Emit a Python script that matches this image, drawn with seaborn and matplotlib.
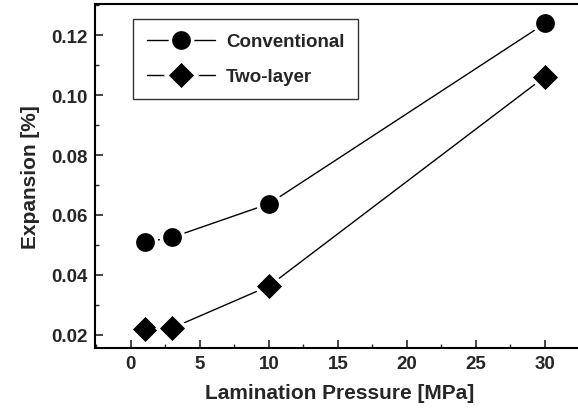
import matplotlib
matplotlib.use("Agg")
import matplotlib.pyplot as plt
import seaborn as sns
import pandas as pd
from matplotlib.ticker import MultipleLocator

pressure = [1, 3, 10, 30]
conventional = [0.0508, 0.0525, 0.0637, 0.1240]
two_layer = [0.0218, 0.0222, 0.0362, 0.1062]
series_names = ["Conventional", "Two-layer"]

df = pd.DataFrame({
    "Pressure": pressure * 2,
    "Expansion": conventional + two_layer,
    "Series": [series_names[0]] * 4 + [series_names[1]] * 4,
})

sns.set_style("ticks")
plt.rcParams["font.family"] = ["Liberation Sans", "DejaVu Sans"]
plt.rcParams["font.weight"] = "bold"

fig = plt.figure(figsize=(5.78, 4.10), dpi=100)
ax = fig.add_axes([95 / 578, 1 - 349 / 410, 490 / 578, 344 / 410])

sns.lineplot(data=df, x="Pressure", y="Expansion", hue="Series", style="Series",
             markers={"Conventional": "o", "Two-layer": "D"}, dashes=False,
             palette={"Conventional": "black", "Two-layer": "black"},
             linewidth=1.0, markersize=16, markeredgecolor="white",
             markeredgewidth=2.5, ax=ax, legend=True)
for ln in ax.lines:
    if ln.get_marker() == "D":
        ln.set_markersize(15.5)

ax.set_xlim(-2.6, 32.9)
ax.set_ylim(0.0155, 0.1305)
ax.xaxis.set_major_locator(MultipleLocator(5))
ax.xaxis.set_minor_locator(MultipleLocator(2.5))
ax.yaxis.set_major_locator(MultipleLocator(0.02))
ax.yaxis.set_minor_locator(MultipleLocator(0.01))
ax.yaxis.set_major_formatter(matplotlib.ticker.FormatStrFormatter("%.2f"))
ax.tick_params(which="major", direction="in", length=6, width=1.2, labelsize=13.5,
               top=False, right=False, pad=5)
ax.tick_params(which="minor", direction="in", length=3, width=1.0,
               top=False, right=False)
for lab in ax.get_xticklabels() + ax.get_yticklabels():
    lab.set_fontweight("bold")
for s in ax.spines.values():
    s.set_linewidth(1.5)
    s.set_color("black")

ax.set_xlabel("Lamination Pressure [MPa]", fontsize=15, fontweight="bold", labelpad=8)
ax.set_ylabel("Expansion [%]", fontsize=15, fontweight="bold", labelpad=8)

leg = ax.legend(loc="upper left", bbox_to_anchor=(38 / 490, 1 - 15 / 344),
                frameon=True, fancybox=False, fontsize=13.5, handlelength=3.6,
                borderpad=0.75, labelspacing=0.95, handletextpad=0.6,
                borderaxespad=0)
leg.get_frame().set_edgecolor("black")
leg.get_frame().set_linewidth(1.0)
for t in leg.get_texts():
    t.set_fontweight("bold")
for h in leg.legend_handles:
    h.set_markeredgecolor("white")
    h.set_linewidth(1.0)
    h.set_markersize(16 if h.get_marker() == "o" else 15.5)

fig.savefig("out.png", dpi=100)
